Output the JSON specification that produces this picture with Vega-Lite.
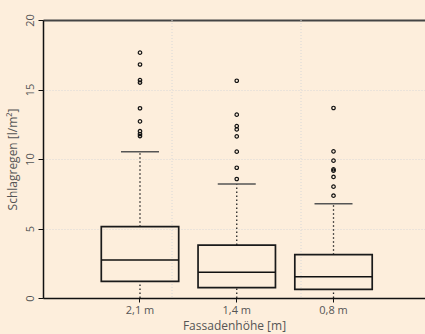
{
  "$schema": "https://vega.github.io/schema/vega-lite/v6.json",
  "autosize": "none",
  "width": 382,
  "height": 278,
  "padding": {"left": 43, "top": 20, "right": 0, "bottom": 36},
  "background": "#fdeedc",
  "config": {
    "view": {"stroke": null},
    "font": "Open Sans",
    "axis": {"labelFont": "Open Sans", "titleFont": "Open Sans", "labelColor": "#555", "titleColor": "#555", "titleFontWeight": "normal"}
  },
  "datasets": {
    "boxes": [
      {"hoehe": "2,1 m", "lower": 0, "q1": 1.2, "median": 2.73, "q3": 5.13, "upper": 10.52},
      {"hoehe": "1,4 m", "lower": 0, "q1": 0.74, "median": 1.85, "q3": 3.81, "upper": 8.2},
      {"hoehe": "0,8 m", "lower": 0, "q1": 0.62, "median": 1.53, "q3": 3.12, "upper": 6.78}
    ],
    "outliers": [
      {"hoehe": "2,1 m", "wert": 17.65},
      {"hoehe": "2,1 m", "wert": 16.8},
      {"hoehe": "2,1 m", "wert": 15.68},
      {"hoehe": "2,1 m", "wert": 15.5},
      {"hoehe": "2,1 m", "wert": 13.65},
      {"hoehe": "2,1 m", "wert": 12.71},
      {"hoehe": "2,1 m", "wert": 12.0},
      {"hoehe": "2,1 m", "wert": 11.8},
      {"hoehe": "2,1 m", "wert": 11.65},
      {"hoehe": "1,4 m", "wert": 15.63},
      {"hoehe": "1,4 m", "wert": 13.19},
      {"hoehe": "1,4 m", "wert": 12.37},
      {"hoehe": "1,4 m", "wert": 12.13},
      {"hoehe": "1,4 m", "wert": 11.63},
      {"hoehe": "1,4 m", "wert": 10.53},
      {"hoehe": "1,4 m", "wert": 9.37},
      {"hoehe": "1,4 m", "wert": 8.56},
      {"hoehe": "0,8 m", "wert": 13.67},
      {"hoehe": "0,8 m", "wert": 10.55},
      {"hoehe": "0,8 m", "wert": 9.88},
      {"hoehe": "0,8 m", "wert": 9.26},
      {"hoehe": "0,8 m", "wert": 9.16},
      {"hoehe": "0,8 m", "wert": 8.71},
      {"hoehe": "0,8 m", "wert": 8.01},
      {"hoehe": "0,8 m", "wert": 7.36}
    ],
    "grid": [{"g": 1}, {"g": 2}]
  },
  "resolve": {"scale": {"x": "independent"}, "axis": {"x": "independent"}},
  "layer": [
    {
      "data": {"name": "grid"},
      "mark": {"type": "rule", "color": "#d8d8d8", "strokeDash": [1, 2], "strokeWidth": 1},
      "encoding": {
        "x": {
          "field": "g", "type": "quantitative",
          "scale": {"domain": [0, 2.961], "nice": false, "zero": false},
          "axis": {"orient": "top", "domain": true, "domainColor": "#444", "domainWidth": 2, "labels": false, "ticks": false, "grid": false, "title": null}
        }
      }
    },
    {
      "encoding": {
        "x": {
          "field": "hoehe", "type": "nominal", "sort": null,
          "scale": {"paddingInner": 0, "paddingOuter": 0.474, "align": 0.53},
          "axis": {"title": "Fassadenhöhe [m]", "labelAngle": 0, "labelFontSize": 11, "titleFontSize": 12, "domainColor": "#111", "domainWidth": 1.3, "tickColor": "#111", "tickSize": 4, "labelPadding": 2, "titlePadding": 5, "grid": false}
        }
      },
      "layer": [
        {
          "data": {"name": "boxes"},
          "mark": {"type": "rule", "color": "#222", "strokeDash": [1.5, 2.5], "strokeWidth": 1.3},
          "encoding": {
            "y": {
              "field": "q3", "type": "quantitative",
              "scale": {"domain": [0, 20], "nice": false},
              "axis": {"title": "Schlagregen [l/m²]", "values": [0, 5, 10, 15, 20], "labelAngle": -90, "labelAlign": "center", "labelBaseline": "bottom", "labelFontSize": 11, "titleFontSize": 12, "labelPadding": 3, "titlePadding": 5, "domainColor": "#111", "domainWidth": 1.5, "tickColor": "#111", "tickSize": 5, "grid": true, "gridColor": "#d8d8d8", "gridDash": [1, 2]}
            },
            "y2": {"field": "upper"}
          }
        },
        {
          "data": {"name": "boxes"},
          "mark": {"type": "rule", "color": "#222", "strokeDash": [1.5, 2.5], "strokeWidth": 1.3},
          "encoding": {
            "y": {"field": "lower", "type": "quantitative"},
            "y2": {"field": "q1"}
          }
        },
        {
          "data": {"name": "boxes"},
          "mark": {"type": "bar", "width": {"band": 0.8}, "fill": "#fdeedc", "fillOpacity": 0, "stroke": "#1a1a1a", "strokeWidth": 1.7},
          "encoding": {
            "y": {"field": "q1", "type": "quantitative"},
            "y2": {"field": "q3"}
          }
        },
        {
          "data": {"name": "boxes"},
          "mark": {"type": "tick", "size": 77, "thickness": 1.5, "color": "#111", "opacity": 1},
          "encoding": {
            "y": {"field": "median", "type": "quantitative"}
          }
        },
        {
          "data": {"name": "boxes"},
          "mark": {"type": "tick", "size": 38, "thickness": 1.5, "color": "#555", "opacity": 1},
          "encoding": {
            "y": {"field": "upper", "type": "quantitative"}
          }
        },
        {
          "data": {"name": "outliers"},
          "mark": {"type": "point", "shape": "circle", "filled": false, "size": 12, "stroke": "#111", "strokeWidth": 1.2, "opacity": 1},
          "encoding": {
            "y": {"field": "wert", "type": "quantitative"}
          }
        }
      ]
    }
  ]
}
